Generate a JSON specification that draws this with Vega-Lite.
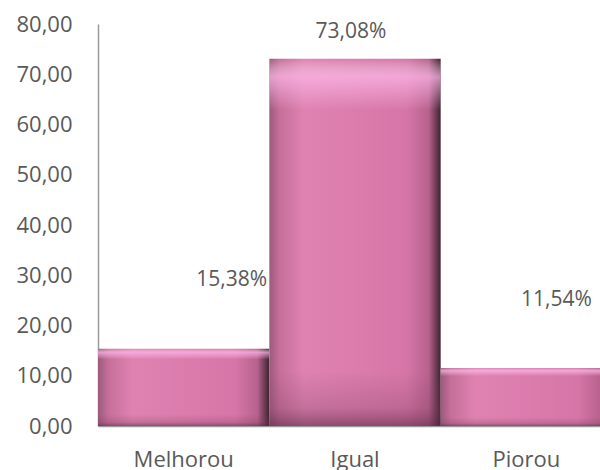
{
  "$schema": "https://vega.github.io/schema/vega-lite/v6.json",
  "width": 514,
  "height": 402,
  "autosize": {"type": "none"},
  "padding": {"left": 98, "top": 24, "right": 0, "bottom": 44},
  "background": "white",
  "config": {
    "locale": {"number": {"decimal": ",", "thousands": ".", "grouping": [3], "currency": ["R$", ""]}},
    "view": {"stroke": null},
    "font": "Open Sans"
  },
  "data": {"values": [
    {"categoria": "Melhorou", "percentual": 15.38},
    {"categoria": "Igual", "percentual": 73.08},
    {"categoria": "Piorou", "percentual": 11.54}
  ]},
  "transform": [{"calculate": "format(datum.percentual, '.2f') + '%'", "as": "rotulo"}],
  "encoding": {
    "x": {"field": "categoria", "type": "nominal", "sort": null,
      "scale": {"paddingInner": 0, "paddingOuter": 0},
      "axis": {"title": null, "labelAngle": 0, "ticks": false, "labelPadding": 23, "labelFontSize": 22, "labelColor": "#595959", "labelFont": "Open Sans", "domainColor": "#9a9a9a", "domainWidth": 1.5}},
    "y": {"field": "percentual", "type": "quantitative",
      "scale": {"domain": [0, 80]},
      "axis": {"title": null, "values": [0, 10, 20, 30, 40, 50, 60, 70, 80], "format": ".2f", "grid": false, "ticks": false, "labelPadding": 26, "labelFontSize": 22, "labelColor": "#595959", "labelFont": "Open Sans", "domainColor": "#9a9a9a", "domainWidth": 1.5}}
  },
  "layer": [
    {"mark": {"type": "bar", "color": {"gradient": "linear", "x1": 0, "y1": 0, "x2": 1, "y2": 0, "stops": [
      {"offset": 0, "color": "#9c5a7c"},
      {"offset": 0.06, "color": "#c66f9a"},
      {"offset": 0.2, "color": "#df82b2"},
      {"offset": 0.8, "color": "#d676a8"},
      {"offset": 0.93, "color": "#b8628e"},
      {"offset": 1, "color": "#3e2230"}]}}},
    {"mark": {"type": "bar", "color": {"gradient": "linear", "x1": 0, "y1": 0, "x2": 0, "y2": 1, "stops": [
      {"offset": 0, "color": "rgba(255,255,255,0)"},
      {"offset": 0.05, "color": "rgba(255,185,235,0.7)"},
      {"offset": 0.14, "color": "rgba(255,190,235,0)"},
      {"offset": 0.85, "color": "rgba(120,60,90,0)"},
      {"offset": 0.95, "color": "rgba(120,60,90,0.25)"},
      {"offset": 1, "color": "rgba(90,40,70,0.6)"}]}}},
    {"transform": [{"filter": "datum.categoria === 'Melhorou'"}],
     "mark": {"type": "text", "dx": 48, "dy": -69, "fontSize": 21, "color": "#595959", "font": "Open Sans"},
     "encoding": {"text": {"field": "rotulo"}}},
    {"transform": [{"filter": "datum.categoria === 'Igual'"}],
     "mark": {"type": "text", "dx": -4, "dy": -27, "fontSize": 21, "color": "#595959", "font": "Open Sans"},
     "encoding": {"text": {"field": "rotulo"}}},
    {"transform": [{"filter": "datum.categoria === 'Piorou'"}],
     "mark": {"type": "text", "dx": 30, "dy": -68, "fontSize": 21, "color": "#595959", "font": "Open Sans"},
     "encoding": {"text": {"field": "rotulo"}}}
  ]
}
